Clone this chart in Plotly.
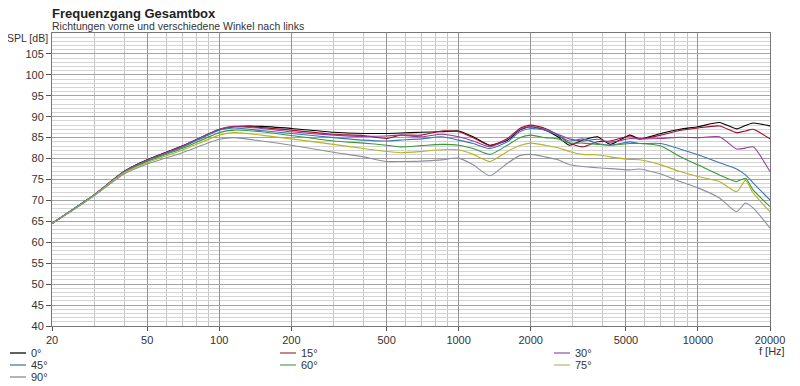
import plotly.graph_objects as go

freqs = [20, 25, 30, 40, 50, 70, 100, 115, 150, 200, 300, 400, 500, 570, 700, 850, 1000, 1150, 1350,
         1600, 1800, 2000, 2300, 2600, 2900, 3300, 3800, 4300, 5200, 5700, 7000, 8400, 10000, 12300,
         14500, 15800, 17000, 20000]

spl_0 = [64.5, 68.2, 71.3, 76.9, 79.7, 83.0, 86.9, 87.6, 87.7, 87.2, 86.3, 86.0, 86.0, 86.1, 86.3, 86.4,
         86.6, 85.2, 83.2, 84.4, 86.8, 87.6, 86.8, 85.2, 83.2, 84.4, 85.2, 83.4, 85.6, 84.7, 86.0, 87.0,
         87.6, 88.6, 87.1, 87.9, 88.5, 87.8]
spl_15 = [64.5, 68.2, 71.3, 76.9, 79.7, 83.0, 87.0, 87.7, 87.4, 86.8, 85.8, 85.5, 84.8, 85.6, 85.6, 86.6,
          86.4, 85.0, 83.1, 84.8, 87.2, 88.0, 87.2, 85.6, 83.7, 82.8, 84.0, 84.2, 85.4, 84.7, 85.6, 86.7,
          87.3, 87.8, 86.2, 86.6, 87.0, 84.7]
spl_30 = [64.5, 68.2, 71.3, 76.9, 79.6, 82.9, 87.0, 87.6, 87.2, 86.4, 85.6, 85.3, 85.4, 85.6, 85.2, 85.8,
          85.2, 84.2, 82.8, 84.6, 87.0, 87.6, 87.0, 85.8, 84.7, 84.2, 84.6, 83.9, 84.8, 84.7, 84.8, 85.1,
          85.0, 85.2, 82.3, 82.5, 82.8, 76.9]
spl_45 = [64.5, 68.2, 71.3, 76.8, 79.5, 82.7, 86.8, 87.3, 86.7, 86.0, 85.0, 84.4, 84.2, 84.4, 84.7, 85.2,
          84.4, 83.6, 82.4, 84.0, 86.4, 87.2, 86.8, 85.6, 84.2, 84.7, 83.6, 83.2, 84.0, 83.6, 83.6, 82.3,
          80.9, 79.0, 77.5, 76.1, 74.2, 70.1]
spl_60 = [64.5, 68.2, 71.3, 76.7, 79.3, 82.4, 86.2, 86.8, 86.4, 85.5, 84.2, 83.7, 83.2, 82.8, 83.1, 83.4,
          83.2, 82.4, 81.0, 83.2, 85.0, 85.6, 85.0, 84.7, 83.7, 83.7, 83.4, 83.2, 83.6, 83.6, 83.0, 80.5,
          78.5, 76.1, 74.5, 75.3, 72.5, 68.5]
spl_75 = [64.5, 68.1, 71.2, 76.6, 79.0, 82.0, 85.6, 86.2, 85.6, 84.7, 83.4, 82.4, 81.7, 81.4, 81.7, 82.1,
          82.1, 81.0, 79.3, 81.7, 83.1, 83.7, 83.2, 82.6, 81.7, 81.0, 80.9, 80.4, 79.8, 79.7, 78.5, 76.9,
          75.7, 74.5, 72.1, 74.8, 71.8, 67.3]
spl_90 = [64.5, 68.0, 71.1, 76.3, 78.7, 81.4, 84.6, 85.0, 84.2, 83.2, 81.5, 80.4, 79.3, 79.3, 79.4, 79.7,
          80.1, 78.5, 75.9, 78.9, 80.7, 81.0, 80.4, 79.7, 78.6, 78.1, 77.8, 77.6, 77.3, 77.5, 76.3, 74.5,
          73.0, 70.6, 67.3, 69.4, 68.2, 63.4]

series_names = ["0°", "15°", "30°", "45°", "60°", "75°", "90°"]
series_values = [spl_0, spl_15, spl_30, spl_45, spl_60, spl_75, spl_90]
line_colors = ["#000000", "#a0102c", "#9a3a9a", "#3a78b4", "#3a983a", "#b4b428", "#8a909c"]
legend_colors = ["#606060", "#c08888", "#b898c8", "#88aac8", "#98c498", "#d4d4a4", "#b4b4b4"]

x_major = [20, 50, 100, 200, 500, 1000, 2000, 5000, 10000, 20000]
x_major_text = [str(v) for v in x_major]
x_minor = [30, 40, 60, 70, 80, 90, 300, 400, 600, 700, 800, 900, 3000, 4000, 6000, 7000, 8000, 9000]
y_major = list(range(40, 110, 5))

FONT = "Liberation Sans"
# page offset of 8px body margin is compensated in margins/size
W, H = 792, 378
ML, MR, MT, MB = 44, 30, 25, 60
PW, PH = W - ML - MR, H - MT - MB

fig = go.Figure()
for name, vals, col in zip(series_names, series_values, line_colors):
    fig.add_trace(go.Scatter(x=freqs, y=vals, name=name, mode="lines",
                             line=dict(color=col, width=1.1, shape="spline", smoothing=0.6),
                             showlegend=False))

fig.update_layout(
    width=W, height=H,
    margin=dict(l=ML, r=MR, t=MT, b=MB, autoexpand=False),
    paper_bgcolor="white", plot_bgcolor="white",
    font=dict(family=FONT, size=11, color="#333333"),
    showlegend=False,
)

fig.update_xaxes(
    type="log", range=[1.30103, 4.30103],
    tickvals=x_major, ticktext=x_major_text,
    showgrid=True, gridcolor="#949494", gridwidth=1,
    ticks="outside", ticklen=4, tickcolor="#555555",
    showline=True, linecolor="#777777", mirror=True,
    minor=dict(tickvals=x_minor, showgrid=True, gridcolor="#c4c4c4", ticks=""),
    tickfont=dict(family=FONT, size=11, color="#333333"),
    zeroline=False,
)
fig.update_yaxes(
    range=[40, 110], tickvals=y_major,
    showgrid=True, gridcolor="#a4a4a4", gridwidth=1,
    ticks="outside", ticklen=5, tickcolor="#555555",
    showline=True, linecolor="#777777", mirror=True,
    minor=dict(dtick=1, showgrid=True, gridcolor="#d4d4d4", ticks=""),
    tickfont=dict(family=FONT, size=11, color="#333333"),
    zeroline=False,
)

# Titles
fig.add_annotation(text="<b>Frequenzgang Gesamtbox</b>", xref="paper", yref="paper",
                   x=0, y=1, xshift=-2, yshift=19.5, xanchor="left", yanchor="middle", showarrow=False,
                   font=dict(family=FONT, size=13, color="#222222"))
fig.add_annotation(text="Richtungen vorne und verschiedene Winkel nach links", xref="paper", yref="paper",
                   x=0, y=1, xshift=-2, yshift=7.5, xanchor="left", yanchor="middle", showarrow=False,
                   font=dict(family=FONT, size=10.5, color="#333333"))
fig.add_annotation(text="SPL [dB]", xref="paper", yref="paper",
                   x=0, y=1, xshift=-2, yshift=-5, xanchor="right", yanchor="middle", showarrow=False,
                   font=dict(family=FONT, size=10.5, color="#333333"))
fig.add_annotation(text="f [Hz]", xref="paper", yref="paper",
                   x=1, y=0, xshift=2, yshift=-25, xanchor="center", yanchor="middle", showarrow=False,
                   font=dict(family=FONT, size=11, color="#333333"))

# Manual legend (3 columns), positions in page pixels
col_x = [10, 280, 554]
row_y = [353, 365, 377]
for i, (name, col) in enumerate(zip(series_names, legend_colors)):
    cx = col_x[i % 3] - 8
    ry = row_y[i // 3] - 8
    yp = (H - MB - ry) / PH
    fig.add_shape(type="line", xref="paper", yref="paper",
                  x0=(cx - ML) / PW, x1=(cx + 16 - ML) / PW,
                  y0=yp, y1=yp,
                  line=dict(color=col, width=2))
    fig.add_annotation(text=name, xref="paper", yref="paper",
                       x=(cx + 19 - ML) / PW, y=yp,
                       xanchor="left", yanchor="middle", showarrow=False,
                       font=dict(family=FONT, size=11, color="#333333"))

fig.write_html("out.html")
